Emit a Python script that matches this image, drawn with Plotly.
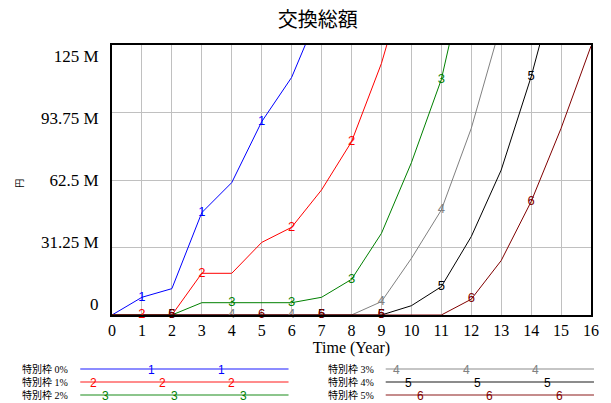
import plotly.graph_objects as go

# ---------------- data (values in millions of yen) ----------------
years = list(range(0, 17))
series_names = ["特別枠 0%", "特別枠 1%", "特別枠 2%", "特別枠 3%", "特別枠 4%", "特別枠 5%"]
s0 = [0, 8.2, 12.2, 47.4, 61.3, 89.5, 110, 143]
s1 = [0, 0, 0, 19.3, 19.3, 33.6, 40.6, 57.9, 80.2, 116.5, 164]
s2 = [0, 0, 0, 5.7, 5.7, 5.7, 5.7, 8.2, 16.5, 37.8, 70.5, 109, 170]
s3 = [0, 0, 0, 0, 0, 0, 0, 0, 0, 6.2, 26.2, 48.6, 86.4, 135]
s4 = [0, 0, 0, 0, 0, 0, 0, 0, 0, 0, 4.3, 13.1, 36.3, 67.1, 110.3, 162]
s5 = [0, 0, 0, 0, 0, 0, 0, 0, 0, 0, 0, 0, 7.3, 25.2, 52.5, 86.4, 124.5]
series = [s0, s1, s2, s3, s4, s5]
label_times = [[1, 3, 5], [1, 3, 6, 8], [4, 6, 8, 11], [4, 6, 9, 11], [2, 7, 9, 11, 14], [2, 5, 7, 9, 12, 14]]
colors = ["#0000ff", "#ff0000", "#008000", "#808080", "#000000", "#800000"]
y_gridvals = [0, 31.25, 62.5, 93.75, 125]
y_ticktext = ["0", "31.25 M", "62.5 M", "93.75 M", "125 M"]
x_ticks = list(range(0, 17))

title = "交換総額"
x_title = "Time (Year)"
y_title = "円"

# Vensim spreads the value labels evenly inside the axis span (inset from both ends)
Y_MAX = 125
inset = 0.04 * Y_MAX
y_labelpos = [inset + k * (Y_MAX - 2 * inset) / 4 for k in range(5)]

fig = go.Figure()
for i, s in enumerate(series):
    xs = years[:len(s)]
    fig.add_trace(go.Scatter(x=xs, y=s, mode="lines",
                             line=dict(color=colors[i], width=1),
                             showlegend=False, hoverinfo="skip"))
for i, s in enumerate(series):
    lt = label_times[i]
    fig.add_trace(go.Scatter(x=lt, y=[s[t] for t in lt], mode="text",
                             text=[str(i + 1)] * len(lt), textposition="middle center",
                             textfont=dict(color=colors[i], size=13, family="Liberation Sans"),
                             showlegend=False, hoverinfo="skip", cliponaxis=False))

# ---------------- custom legend ----------------
L, R, T, B = 112, 595, 45, 315
def px(x):
    return (x - L) / (R - L)
def py(y):
    return (B - y) / (B - T)

rows_y = [369, 382, 395]
cols = [dict(text_x=70, line0=80, line1=290), dict(text_x=378, line0=388, line1=598)]
legend_label_pos = [[152, 222], [93, 163, 233], [105, 175, 245],
                    [399, 469, 539], [411, 481, 551], [423, 493, 563]]
for i, name in enumerate(series_names):
    c = cols[i // 3]
    ry = rows_y[i % 3]
    fig.add_shape(type="line", xref="paper", yref="paper",
                  x0=px(c["line0"]), x1=px(c["line1"]), y0=py(ry), y1=py(ry),
                  line=dict(color=colors[i], width=1.5), opacity=0.6)
    fig.add_annotation(xref="paper", yref="paper", x=px(c["text_x"]), y=py(ry),
                       text=name, showarrow=False, xanchor="right", yanchor="middle",
                       font=dict(family="Liberation Serif, Noto Sans CJK JP", size=10, color="#000"))
    for lx in legend_label_pos[i]:
        fig.add_annotation(xref="paper", yref="paper", x=px(lx), y=py(ry + 1),
                           text=str(i + 1), showarrow=False, xanchor="center", yanchor="middle",
                           font=dict(family="Liberation Sans", size=12, color=colors[i]))

fig.add_annotation(xref="paper", yref="paper", x=px(18), y=py(183), text=y_title,
                   showarrow=False, textangle=-90, xanchor="center", yanchor="middle",
                   font=dict(family="Noto Sans CJK JP", size=9, color="#000"))

fig.update_layout(
    width=611, height=403,
    margin=dict(l=L, r=611 - R, t=T, b=403 - B),
    paper_bgcolor="white", plot_bgcolor="white",
    title=dict(text=title, x=0.52, xanchor="center", y=0.95, yanchor="middle",
               font=dict(family="Noto Sans CJK JP", size=20, color="#000")),
    font=dict(family="Liberation Serif", color="#000"),
    xaxis=dict(range=[0, 16], tickvals=x_ticks, ticktext=[str(v) for v in x_ticks],
               showgrid=True, gridcolor="#c0c0c0", gridwidth=1,
               showline=True, linecolor="#000", linewidth=2, mirror=True,
               ticks="", zeroline=False, tickfont=dict(size=16, family="Liberation Serif"),
               title=dict(text=x_title, font=dict(size=16, family="Liberation Serif"), standoff=4)),
    yaxis=dict(range=[0, Y_MAX], tickvals=y_labelpos, ticktext=y_ticktext,
               showgrid=False,
               minor=dict(tickvals=y_gridvals, showgrid=True, gridcolor="#c0c0c0", gridwidth=1, ticks=""),
               showline=True, linecolor="#000", linewidth=2, mirror=True,
               ticks="", zeroline=False, tickfont=dict(size=17, family="Liberation Serif"),
               ticklabelstandoff=8),
)

fig.write_html("out.html", post_script="document.body.style.margin='0';",
               config={"displayModeBar": False})
